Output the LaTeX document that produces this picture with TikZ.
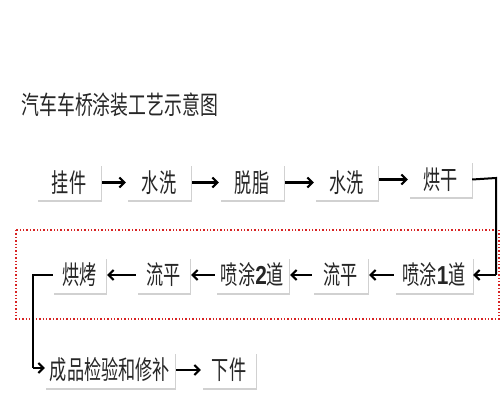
\documentclass[tikz,border=0pt]{standalone}
\usepackage{fontspec}
\newfontfamily\cjk[FakeStretch=0.66]{Noto Sans CJK SC}
\newfontfamily\cjkt[FakeStretch=0.7]{Noto Sans CJK SC}
\newfontfamily\dig[FakeStretch=0.8]{Liberation Sans}
\usetikzlibrary{arrows.meta,shadows}
\definecolor{framered}{RGB}{215,35,35}
\begin{document}
\begin{tikzpicture}[x=1pt,y=1pt,
  stepbox/.style={fill=white,draw=none,inner sep=0pt,minimum height=36pt,
    font=\cjk\fontsize{26}{26}\selectfont,text=black!85,
    drop shadow={shadow xshift=1pt,shadow yshift=-2pt,opacity=0.3,fill=black!60}},
  flow/.style={line width=2.2pt,-{Straight Barb[length=5pt,width=10pt,line width=2pt]}},
  link/.style={line width=2pt}]
\useasboundingbox (0,0) rectangle (504,-403);
\node[anchor=west,font=\cjkt\fontsize{25.5}{25.5}\selectfont,text=black!85] (title) at (18,-105) {汽车车桥涂装工艺示意图};
% row 1
\node[stepbox,minimum width=64pt] (a1) at (69,-182.5) {挂件};
\node[stepbox,minimum width=64pt] (a2) at (159,-182.5) {水洗};
\node[stepbox,minimum width=64pt] (a3) at (252,-182.5) {脱脂};
\node[stepbox,minimum width=63pt] (a4) at (346.5,-182.5) {水洗};
\node[stepbox,minimum width=63pt] (a5) at (440.5,-179.5) {烘干};
% row 2
\node[stepbox,minimum width=78pt] (b1) at (434,-275) {喷涂{\dig\bfseries 1}道};
\node[stepbox,minimum width=55pt] (b2) at (340.5,-275) {流平};
\node[stepbox,minimum width=73pt] (b3) at (252.5,-275) {喷涂{\dig\bfseries 2}道};
\node[stepbox,minimum width=53pt] (b4) at (163.5,-275) {流平};
\node[stepbox,minimum width=53pt] (b5) at (79.5,-275) {烘烤};
% row 3
\node[stepbox,minimum width=130pt] (c1) at (110,-370) {成品检验和修补};
\node[stepbox,minimum width=54pt] (c2) at (229,-370) {下件};
% dotted frame
\draw[framered,dotted,line width=1.4pt] (16,-230) rectangle (499,-319);
% arrows
\foreach \p/\q in {a1/a2,a2/a3,a3/a4,a4/a5,c1/c2}
  \draw[flow,shorten <=1pt,shorten >=1pt] (\p.east |- \q.west) -- (\q.west);
\foreach \p/\q in {b1/b2,b2/b3,b3/b4,b4/b5}
  \draw[flow,shorten <=1pt,shorten >=1pt] (\p.west) -- (\q.east);
\coordinate (r1) at (496,-178);
\coordinate (r2) at (496,-275);
\draw[link] (a5.east) -- (r1) -- (r2);
\draw[flow] (r2) -- (b1.east);
\coordinate (l1) at (33,-275);
\coordinate (l2) at (33,-368);
\draw[link] (b5.west) -- (l1) -- (l2);
\draw[flow] (l2) -- (c1.west |- l2);
\end{tikzpicture}
\end{document}
